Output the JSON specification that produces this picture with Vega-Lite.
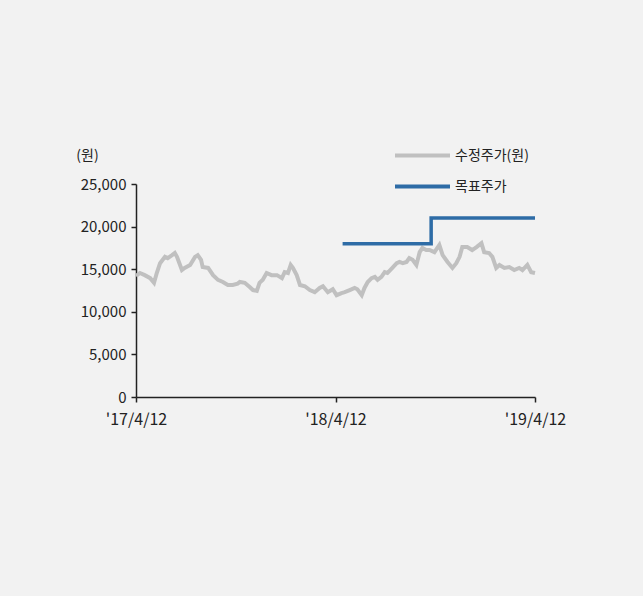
{
  "$schema": "https://vega.github.io/schema/vega-lite/v6.json",
  "width": 399,
  "height": 213,
  "autosize": {"type": "none"},
  "padding": {"left": 136, "top": 184, "right": 108, "bottom": 199},
  "background": "#f2f2f2",
  "config": {
    "view": {"stroke": null},
    "font": "Noto Sans CJK KR",
    "axis": {"grid": false, "domainColor": "#222222", "tickColor": "#222222", "labelColor": "#222222", "labelFontSize": 16, "domainWidth": 1.5, "tickWidth": 1.5, "tickSize": 5}
  },
  "datasets": {
    "price": [
      {"date": "2017/04/12", "value": 14200, "series": "수정주가(원)"},
      {"date": "2017/04/19", "value": 14550, "series": "수정주가(원)"},
      {"date": "2017/04/28", "value": 14300, "series": "수정주가(원)"},
      {"date": "2017/05/08", "value": 13950, "series": "수정주가(원)"},
      {"date": "2017/05/15", "value": 13400, "series": "수정주가(원)"},
      {"date": "2017/05/20", "value": 14550, "series": "수정주가(원)"},
      {"date": "2017/05/26", "value": 15700, "series": "수정주가(원)"},
      {"date": "2017/06/04", "value": 16450, "series": "수정주가(원)"},
      {"date": "2017/06/09", "value": 16300, "series": "수정주가(원)"},
      {"date": "2017/06/17", "value": 16650, "series": "수정주가(원)"},
      {"date": "2017/06/22", "value": 16900, "series": "수정주가(원)"},
      {"date": "2017/06/26", "value": 16450, "series": "수정주가(원)"},
      {"date": "2017/07/05", "value": 14900, "series": "수정주가(원)"},
      {"date": "2017/07/10", "value": 15150, "series": "수정주가(원)"},
      {"date": "2017/07/20", "value": 15500, "series": "수정주가(원)"},
      {"date": "2017/07/29", "value": 16450, "series": "수정주가(원)"},
      {"date": "2017/08/03", "value": 16650, "series": "수정주가(원)"},
      {"date": "2017/08/09", "value": 16100, "series": "수정주가(원)"},
      {"date": "2017/08/12", "value": 15250, "series": "수정주가(원)"},
      {"date": "2017/08/22", "value": 15150, "series": "수정주가(원)"},
      {"date": "2017/08/31", "value": 14300, "series": "수정주가(원)"},
      {"date": "2017/09/09", "value": 13750, "series": "수정주가(원)"},
      {"date": "2017/09/18", "value": 13500, "series": "수정주가(원)"},
      {"date": "2017/09/27", "value": 13150, "series": "수정주가(원)"},
      {"date": "2017/10/06", "value": 13150, "series": "수정주가(원)"},
      {"date": "2017/10/15", "value": 13300, "series": "수정주가(원)"},
      {"date": "2017/10/19", "value": 13500, "series": "수정주가(원)"},
      {"date": "2017/10/28", "value": 13400, "series": "수정주가(원)"},
      {"date": "2017/11/06", "value": 12900, "series": "수정주가(원)"},
      {"date": "2017/11/12", "value": 12550, "series": "수정주가(원)"},
      {"date": "2017/11/19", "value": 12450, "series": "수정주가(원)"},
      {"date": "2017/11/24", "value": 13400, "series": "수정주가(원)"},
      {"date": "2017/11/30", "value": 13750, "series": "수정주가(원)"},
      {"date": "2017/12/07", "value": 14550, "series": "수정주가(원)"},
      {"date": "2017/12/16", "value": 14300, "series": "수정주가(원)"},
      {"date": "2017/12/26", "value": 14300, "series": "수정주가(원)"},
      {"date": "2018/01/04", "value": 13950, "series": "수정주가(원)"},
      {"date": "2018/01/09", "value": 14650, "series": "수정주가(원)"},
      {"date": "2018/01/15", "value": 14550, "series": "수정주가(원)"},
      {"date": "2018/01/20", "value": 15500, "series": "수정주가(원)"},
      {"date": "2018/01/24", "value": 15150, "series": "수정주가(원)"},
      {"date": "2018/01/31", "value": 14300, "series": "수정주가(원)"},
      {"date": "2018/02/06", "value": 13150, "series": "수정주가(원)"},
      {"date": "2018/02/15", "value": 13000, "series": "수정주가(원)"},
      {"date": "2018/02/24", "value": 12550, "series": "수정주가(원)"},
      {"date": "2018/03/05", "value": 12300, "series": "수정주가(원)"},
      {"date": "2018/03/14", "value": 12800, "series": "수정주가(원)"},
      {"date": "2018/03/20", "value": 13000, "series": "수정주가(원)"},
      {"date": "2018/03/29", "value": 12300, "series": "수정주가(원)"},
      {"date": "2018/04/07", "value": 12650, "series": "수정주가(원)"},
      {"date": "2018/04/14", "value": 11950, "series": "수정주가(원)"},
      {"date": "2018/04/23", "value": 12200, "series": "수정주가(원)"},
      {"date": "2018/04/29", "value": 12300, "series": "수정주가(원)"},
      {"date": "2018/05/08", "value": 12550, "series": "수정주가(원)"},
      {"date": "2018/05/17", "value": 12800, "series": "수정주가(원)"},
      {"date": "2018/05/22", "value": 12650, "series": "수정주가(원)"},
      {"date": "2018/05/30", "value": 11950, "series": "수정주가(원)"},
      {"date": "2018/06/04", "value": 12800, "series": "수정주가(원)"},
      {"date": "2018/06/10", "value": 13500, "series": "수정주가(원)"},
      {"date": "2018/06/17", "value": 13950, "series": "수정주가(원)"},
      {"date": "2018/06/23", "value": 14100, "series": "수정주가(원)"},
      {"date": "2018/06/28", "value": 13750, "series": "수정주가(원)"},
      {"date": "2018/07/05", "value": 14100, "series": "수정주가(원)"},
      {"date": "2018/07/11", "value": 14650, "series": "수정주가(원)"},
      {"date": "2018/07/16", "value": 14550, "series": "수정주가(원)"},
      {"date": "2018/07/25", "value": 15150, "series": "수정주가(원)"},
      {"date": "2018/08/02", "value": 15700, "series": "수정주가(원)"},
      {"date": "2018/08/07", "value": 15850, "series": "수정주가(원)"},
      {"date": "2018/08/13", "value": 15700, "series": "수정주가(원)"},
      {"date": "2018/08/20", "value": 15850, "series": "수정주가(원)"},
      {"date": "2018/08/25", "value": 16300, "series": "수정주가(원)"},
      {"date": "2018/08/31", "value": 16100, "series": "수정주가(원)"},
      {"date": "2018/09/07", "value": 15500, "series": "수정주가(원)"},
      {"date": "2018/09/13", "value": 17000, "series": "수정주가(원)"},
      {"date": "2018/09/18", "value": 17500, "series": "수정주가(원)"},
      {"date": "2018/09/25", "value": 17250, "series": "수정주가(원)"},
      {"date": "2018/10/01", "value": 17250, "series": "수정주가(원)"},
      {"date": "2018/10/10", "value": 17000, "series": "수정주가(원)"},
      {"date": "2018/10/19", "value": 17850, "series": "수정주가(원)"},
      {"date": "2018/10/25", "value": 16650, "series": "수정주가(원)"},
      {"date": "2018/11/03", "value": 15850, "series": "수정주가(원)"},
      {"date": "2018/11/12", "value": 15150, "series": "수정주가(원)"},
      {"date": "2018/11/19", "value": 15700, "series": "수정주가(원)"},
      {"date": "2018/11/25", "value": 16450, "series": "수정주가(원)"},
      {"date": "2018/11/30", "value": 17600, "series": "수정주가(원)"},
      {"date": "2018/12/09", "value": 17600, "series": "수정주가(원)"},
      {"date": "2018/12/18", "value": 17250, "series": "수정주가(원)"},
      {"date": "2018/12/26", "value": 17600, "series": "수정주가(원)"},
      {"date": "2019/01/04", "value": 18050, "series": "수정주가(원)"},
      {"date": "2019/01/09", "value": 17000, "series": "수정주가(원)"},
      {"date": "2019/01/18", "value": 16900, "series": "수정주가(원)"},
      {"date": "2019/01/24", "value": 16450, "series": "수정주가(원)"},
      {"date": "2019/01/31", "value": 15150, "series": "수정주가(원)"},
      {"date": "2019/02/06", "value": 15500, "series": "수정주가(원)"},
      {"date": "2019/02/15", "value": 15150, "series": "수정주가(원)"},
      {"date": "2019/02/24", "value": 15250, "series": "수정주가(원)"},
      {"date": "2019/03/05", "value": 14900, "series": "수정주가(원)"},
      {"date": "2019/03/14", "value": 15150, "series": "수정주가(원)"},
      {"date": "2019/03/20", "value": 14900, "series": "수정주가(원)"},
      {"date": "2019/03/29", "value": 15500, "series": "수정주가(원)"},
      {"date": "2019/04/05", "value": 14650, "series": "수정주가(원)"},
      {"date": "2019/04/12", "value": 14550, "series": "수정주가(원)"}
    ],
    "target": [
      {"date": "2018/04/25", "value": 18000, "series": "목표주가"},
      {"date": "2018/10/04", "value": 21000, "series": "목표주가"},
      {"date": "2019/04/12", "value": 21000, "series": "목표주가"}
    ]
  },
  "encoding": {
    "x": {
      "field": "date", "type": "temporal", "title": null,
      "scale": {"domain": [{"year": 2017, "month": 4, "date": 12}, {"year": 2019, "month": 4, "date": 12}]},
      "axis": {
        "values": [{"year": 2017, "month": 4, "date": 12}, {"year": 2018, "month": 4, "date": 12}, {"year": 2019, "month": 4, "date": 12}],
        "labelExpr": "\"'\" + timeFormat(datum.value, '%y/%-m/%-d')",
        "labelFlush": false,
        "labelPadding": 9
      }
    },
    "y": {
      "field": "value", "type": "quantitative",
      "scale": {"domain": [0, 25000]},
      "axis": {
        "values": [0, 5000, 10000, 15000, 20000, 25000],
        "format": ",d",
        "labelFontSize": 15,
        "title": "(원)", "titleAngle": 0, "titleX": -49, "titleY": -29,
        "titleAlign": "center", "titleBaseline": "middle",
        "titleFontWeight": "normal", "titleFontSize": 14, "titleColor": "#222222",
        "labelPadding": 5
      }
    },
    "color": {
      "field": "series", "type": "nominal",
      "scale": {"domain": ["수정주가(원)", "목표주가"], "range": ["#c0c0c0", "#2e6ca6"]},
      "legend": {
        "title": null, "orient": "none", "legendX": 257, "legendY": -44,
        "symbolType": "stroke", "symbolSize": 3025, "symbolStrokeWidth": 4,
        "clipHeight": 31,
        "labelFontSize": 14, "labelColor": "#222222", "rowPadding": 0, "labelOffset": 3
      }
    }
  },
  "layer": [
    {"data": {"name": "price"}, "mark": {"type": "line", "strokeWidth": 4}},
    {"data": {"name": "target"}, "mark": {"type": "line", "strokeWidth": 3.5, "interpolate": "step-after"}}
  ]
}
